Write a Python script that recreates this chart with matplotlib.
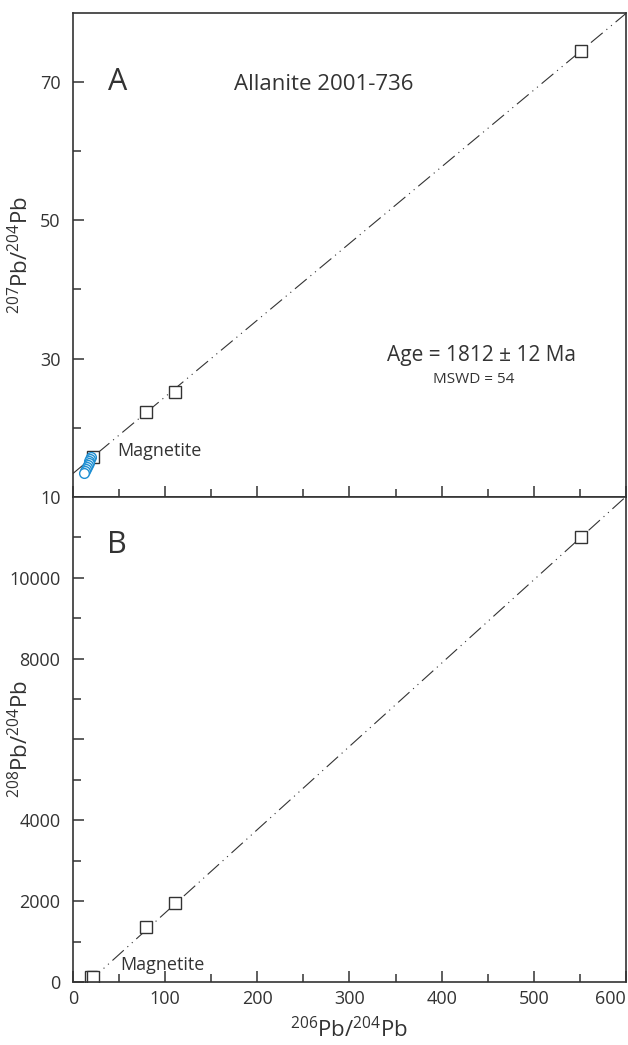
import matplotlib
matplotlib.use('Agg')
import matplotlib.pyplot as plt
from matplotlib.ticker import FixedLocator

plt.rcParams['font.family'] = ['Open Sans', 'DejaVu Sans']
plt.rcParams['lines.scale_dashes'] = False
plt.rcParams['mathtext.fontset'] = 'custom'
plt.rcParams['mathtext.rm'] = 'Open Sans'

# allanite fractions (206/204, 207/204, 208/204)
all_x = [79.5, 111.0, 551.0]
all_y207 = [22.3, 25.2, 74.4]
all_y208 = [1368, 1947, 11000]

# magnetite fractions
mag_x = [20.0, 22.0]
mag_y207 = [15.8, 15.8]
mag_y208 = [120, 131]

# magnetite leachates (blue circles, panel A)
leach_x = [19.2, 18.6, 17.9, 17.0, 16.0, 15.0, 14.0, 13.1, 12.3]
leach_y = [15.8, 15.5, 15.2, 14.9, 14.6, 14.3, 14.0, 13.7, 13.4]

# regression lines
iso_x = [0, 600]
iso_y207 = [13.4, 79.9]
iso_b_x = [17, 600]
iso_b_y = [0, 12010]

# ticks
x_ticks = [0, 100, 200, 300, 400, 500, 600]
x_minor = [50, 150, 250, 350, 450, 550]
a_ticks = [10, 30, 50, 70]
a_minor = [20, 40, 60]
b_ticks = [0, 2000, 4000, 6000, 8000, 10000]
b_labels = ['0', '2000', '4000', '', '8000', '10000']
b_minor = [1000, 3000, 5000, 7000, 9000, 11000]

ink = '#333333'
blue = '#1f8fd2'
dashdotdot = (0, (11, 3.5, 0.8, 3.5, 0.8, 3.5))

fig = plt.figure(figsize=(6.28, 10.45), dpi=100)
axA = fig.add_axes([0.1162, 0.5244, 0.8806, 0.4634])
axB = fig.add_axes([0.1162, 0.0603, 0.8806, 0.4641])

for ax in (axA, axB):
    for s in ax.spines.values():
        s.set_color(ink)
        s.set_linewidth(1.2)
    ax.tick_params(which='both', direction='in', color=ink, width=1.1,
                   labelsize=13, labelcolor=ink, top=False, right=False)
    ax.tick_params(which='major', length=8)
    ax.tick_params(which='minor', length=5.5)
    ax.tick_params(axis='y', pad=9)
    ax.tick_params(axis='x', pad=6)
    ax.set_xlim(0, 600)
    ax.xaxis.set_major_locator(FixedLocator(x_ticks))
    ax.xaxis.set_minor_locator(FixedLocator(x_minor))

# panel A
axA.plot(iso_x, iso_y207, color=ink, lw=0.8, linestyle=dashdotdot, zorder=1)
axA.plot(leach_x, leach_y, 'o', ms=7, mfc='white', mec=blue, mew=1.0, zorder=2)
axA.plot(mag_x[1:], mag_y207[1:], 's', ms=8, mfc='white', mec=ink, mew=1.0, zorder=1.5)
axA.plot(all_x, all_y207, 's', ms=8, mfc='white', mec=ink, mew=1.0, zorder=3)
axA.set_ylim(10, 80)
axA.yaxis.set_major_locator(FixedLocator(a_ticks))
axA.yaxis.set_minor_locator(FixedLocator(a_minor))
axA.tick_params(axis='x', labelbottom=False)
axA.set_ylabel('$^{207}$Pb/$^{204}$Pb', fontsize=16, color=ink)
axA.yaxis.set_label_coords(-0.072, 0.5)

axA.text(0.08, 0.857, 'A', transform=axA.transAxes, fontsize=22, color=ink,
         ha='center', va='center')
axA.text(0.454, 0.851, 'Allanite 2001-736', transform=axA.transAxes, fontsize=16,
         color=ink, ha='center', va='center')
axA.text(0.738, 0.292, 'Age = 1812 ± 12 Ma', transform=axA.transAxes, fontsize=15,
         color=ink, ha='center', va='center')
axA.text(0.725, 0.243, 'MSWD = 54', transform=axA.transAxes, fontsize=11,
         color=ink, ha='center', va='center')
axA.text(0.08, 0.095, 'Magnetite', transform=axA.transAxes, fontsize=13,
         color=ink, ha='left', va='center')

# panel B
axB.plot(iso_b_x, iso_b_y, color=ink, lw=0.8, linestyle=dashdotdot, zorder=1)
axB.plot(mag_x, mag_y208, 's', ms=8, mfc='white', mec=ink, mew=1.0, zorder=2)
axB.plot(all_x, all_y208, 's', ms=8, mfc='white', mec=ink, mew=1.0, zorder=3)
axB.set_ylim(0, 12000)
axB.yaxis.set_major_locator(FixedLocator(b_ticks))
axB.yaxis.set_minor_locator(FixedLocator(b_minor))
axB.set_yticklabels(b_labels)
axB.set_xticklabels([str(v) for v in x_ticks])
axB.get_xticklabels()[-1].set_horizontalalignment('right')
axB.set_ylabel('$^{208}$Pb/$^{204}$Pb', fontsize=16, color=ink)
axB.yaxis.set_label_coords(-0.072, 0.5)
axB.set_xlabel('$^{206}$Pb/$^{204}$Pb', fontsize=16, color=ink, labelpad=6)

axB.text(0.08, 0.901, 'B', transform=axB.transAxes, fontsize=22, color=ink,
         ha='center', va='center')
axB.text(0.085, 0.035, 'Magnetite', transform=axB.transAxes, fontsize=13,
         color=ink, ha='left', va='center')

fig.savefig('out.png', dpi=100)
